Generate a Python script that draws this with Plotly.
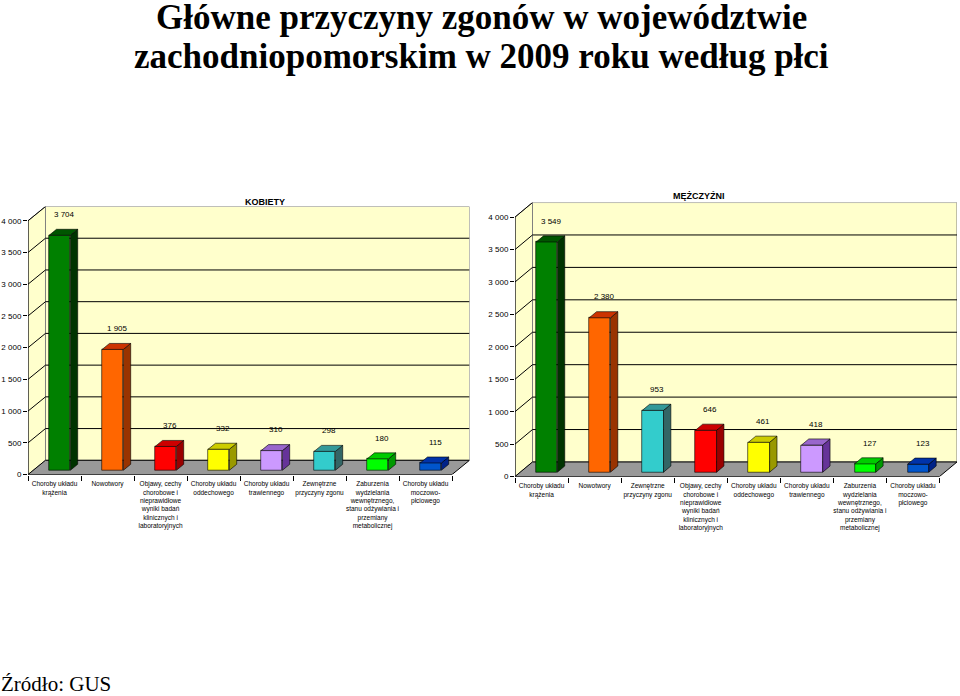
import plotly.graph_objects as go

# ---------------- data ----------------
women_categories = [
    "Choroby układu<br>krążenia",
    "Nowotwory",
    "Objawy, cechy<br>chorobowe i<br>nieprawidłowe<br>wyniki badań<br>klinicznych i<br>laboratoryjnych",
    "Choroby układu<br>oddechowego",
    "Choroby układu<br>trawiennego",
    "Zewnętrzne<br>przyczyny zgonu",
    "Zaburzenia<br>wydzielania<br>wewnętrznego,<br>stanu odżywiania i<br>przemiany<br>metabolicznej",
    "Choroby układu<br>moczowo-<br>płciowego",
]
women_values = [3704, 1905, 376, 332, 310, 298, 180, 115]
women_keys = ["krazenie", "nowotwory", "objawy", "oddech", "trawienie", "zewn", "zaburz", "mocz"]

men_categories = [
    "Choroby układu<br>krążenia",
    "Nowotwory",
    "Zewnętrzne<br>przyczyny zgonu",
    "Objawy, cechy<br>chorobowe i<br>nieprawidłowe<br>wyniki badań<br>klinicznych i<br>laboratoryjnych",
    "Choroby układu<br>oddechowego",
    "Choroby układu<br>trawiennego",
    "Zaburzenia<br>wydzielania<br>wewnętrznego,<br>stanu odżywiania i<br>przemiany<br>metabolicznej",
    "Choroby układu<br>moczowo-<br>płciowego",
]
men_values = [3549, 2380, 953, 646, 461, 418, 127, 123]
men_keys = ["krazenie", "nowotwory", "zewn", "objawy", "oddech", "trawienie", "zaburz", "mocz"]

y_ticks = [0, 500, 1000, 1500, 2000, 2500, 3000, 3500, 4000]

# colours: front, side, top
palette = {
    "krazenie": ("#008000", "#003300", "#005500"),
    "nowotwory": ("#FF6600", "#993300", "#CC3300"),
    "objawy": ("#FF0000", "#990000", "#CC0000"),
    "oddech": ("#FFFF00", "#999900", "#CCCC00"),
    "trawienie": ("#CC99FF", "#663399", "#9966CC"),
    "zewn": ("#33CCCC", "#336666", "#339999"),
    "zaburz": ("#00FF00", "#009900", "#00CC00"),
    "mocz": ("#0055CC", "#002288", "#0033AA"),
}

# 3D geometry (data units)
DX = 0.33
DY = 225
YMAX = 4000
BAR_W = 0.4
F0, F1 = 0.3, 0.72

FONT = "Liberation Sans, Arial, sans-serif"
SERIF = "Liberation Serif, Times New Roman, serif"

fig = go.Figure()
shapes = []
annotations = []


def fmt(v):
    return f"{v:,}".replace(",", " ")


def panel(values, keys, cats, xa, ya, xdom, ydom, title, title_xy):
    xref = xa
    yref = ya
    n = len(values)
    x0, x1 = -0.5, n - 0.5
    # left wall
    shapes.append(dict(type="path", xref=xref, yref=yref, layer="below",
                       path=f"M {x0},0 L {x0},{YMAX} L {x0+DX},{YMAX+DY} L {x0+DX},{DY} Z",
                       fillcolor="#FFFFCC", line=dict(color="#808080", width=1)))
    # back wall
    shapes.append(dict(type="rect", xref=xref, yref=yref, layer="below",
                       x0=x0 + DX, x1=x1 + DX, y0=DY, y1=YMAX + DY,
                       fillcolor="#FFFFCC", line=dict(color="#808080", width=1)))
    # floor
    shapes.append(dict(type="path", xref=xref, yref=yref, layer="below",
                       path=f"M {x0},0 L {x1},0 L {x1+DX},{DY} L {x0+DX},{DY} Z",
                       fillcolor="#999999", line=dict(color="#000000", width=1)))
    # gridlines
    for t in y_ticks[1:-1]:
        shapes.append(dict(type="line", xref=xref, yref=yref, layer="below",
                           x0=x0 + DX, x1=x1 + DX, y0=t + DY, y1=t + DY,
                           line=dict(color="#000000", width=1)))
    for t in y_ticks[1:]:
        shapes.append(dict(type="line", xref=xref, yref=yref, layer="below",
                           x0=x0, x1=x0 + DX, y0=t, y1=t + DY,
                           line=dict(color="#000000", width=1)))
    # front axes lines
    shapes.append(dict(type="line", xref=xref, yref=yref, x0=x0, x1=x0, y0=0, y1=YMAX,
                       line=dict(color="#000000", width=1)))
    shapes.append(dict(type="line", xref=xref, yref=yref, x0=x0, x1=x1, y0=0, y1=0,
                       line=dict(color="#000000", width=1)))

    xs = [i + F0 * DX for i in range(n)]
    fronts = [palette[k][0] for k in keys]
    fig.add_trace(go.Bar(x=xs, y=values, base=[F0 * DY] * n, width=BAR_W,
                         marker=dict(color=fronts, line=dict(color="#000000", width=0.6)),
                         xaxis=xa, yaxis=ya, hoverinfo="skip", showlegend=False))
    ddx = (F1 - F0) * DX
    ddy = (F1 - F0) * DY
    for i, (v, k) in enumerate(zip(values, keys)):
        xl = xs[i] - BAR_W / 2
        xr = xs[i] + BAR_W / 2
        yb = F0 * DY
        yt = v + F0 * DY
        # side
        fig.add_trace(go.Scatter(
            x=[xr, xr, xr + ddx, xr + ddx, xr], y=[yb, yt, yt + ddy, yb + ddy, yb],
            mode="lines", fill="toself", fillcolor=palette[k][1],
            line=dict(color="#000000", width=0.6), xaxis=xa, yaxis=ya,
            hoverinfo="skip", showlegend=False))
        # top
        fig.add_trace(go.Scatter(
            x=[xl, xr, xr + ddx, xl + ddx, xl], y=[yt, yt, yt + ddy, yt + ddy, yt],
            mode="lines", fill="toself", fillcolor=palette[k][2],
            line=dict(color="#000000", width=0.6), xaxis=xa, yaxis=ya,
            hoverinfo="skip", showlegend=False))
        annotations.append(dict(x=i + 0.55 * DX, y=v + 0.5 * DY, xref=xref, yref=yref,
                                text=fmt(v), showarrow=False, yshift=18,
                                font=dict(size=8, color="#000000", family=FONT)))
    annotations.append(dict(x=title_xy[0], y=title_xy[1], xref="paper", yref="paper",
                            text=f"<b>{title}</b>", showarrow=False,
                            font=dict(size=9, color="#000000", family=FONT)))
    axis_x = dict(domain=xdom, range=[x0, x1 + DX], tickmode="array",
                  tickvals=list(range(n)), ticktext=cats, ticks="", tickangle=0,
                  ticklabelstandoff=4,
                  showgrid=False, zeroline=False, showline=False,
                  tickfont=dict(size=6.5, color="#000000", family=FONT),
                  minor=dict(ticks="outside", tick0=-0.5, dtick=1, ticklen=5,
                             tickcolor="#000000", showgrid=False),
                  fixedrange=True)
    axis_y = dict(domain=ydom, range=[0, YMAX + DY], tickmode="array",
                  tickvals=y_ticks, ticktext=[fmt(t) for t in y_ticks],
                  ticks="outside", ticklen=4, tickcolor="#000000",
                  showgrid=False, zeroline=False, showline=False,
                  tickfont=dict(size=8, color="#000000", family=FONT),
                  fixedrange=True)
    return axis_x, axis_y


H = 696.0
W = 960.0
lx, ly = panel(women_values, women_keys, women_categories, "x", "y",
               [28 / W, 469.5 / W], [(H - 478) / H, (H - 208) / H],
               "KOBIETY", (243 / W, (H - 196) / H))
rx, ry = panel(men_values, men_keys, men_categories, "x2", "y2",
               [515 / W, 957 / W], [(H - 480) / H, (H - 204) / H],
               "MĘŻCZYŹNI", (727 / W, (H - 190) / H))
ry["anchor"] = "x2"
rx["anchor"] = "y2"

annotations.append(dict(x=481 / W, y=(H - 18) / H, xref="paper", yref="paper",
                        text="<b>Główne przyczyny zgonów w województwie</b>",
                        showarrow=False, yanchor="middle",
                        font=dict(size=35, color="#000000", family=SERIF)))
annotations.append(dict(x=481 / W, y=(H - 57) / H, xref="paper", yref="paper",
                        text="<b>zachodniopomorskim w 2009 roku według płci</b>",
                        showarrow=False, yanchor="middle",
                        font=dict(size=35, color="#000000", family=SERIF)))
annotations.append(dict(x=0, y=(H - 689) / H, xref="paper", yref="paper",
                        text="Źródło: GUS", showarrow=False, xanchor="left", yanchor="middle",
                        xshift=-1,
                        font=dict(size=21, color="#000000", family=SERIF)))

fig.update_layout(
    width=960, height=696,
    margin=dict(l=0, r=0, t=0, b=0),
    paper_bgcolor="#FFFFFF", plot_bgcolor="rgba(0,0,0,0)",
    xaxis=lx, yaxis=ly, xaxis2=rx, yaxis2=ry,
    shapes=shapes, annotations=annotations,
    showlegend=False, bargap=0,
)

fig.write_html("out.html", config={"displayModeBar": False},
               post_script="document.body.style.margin='0';")
